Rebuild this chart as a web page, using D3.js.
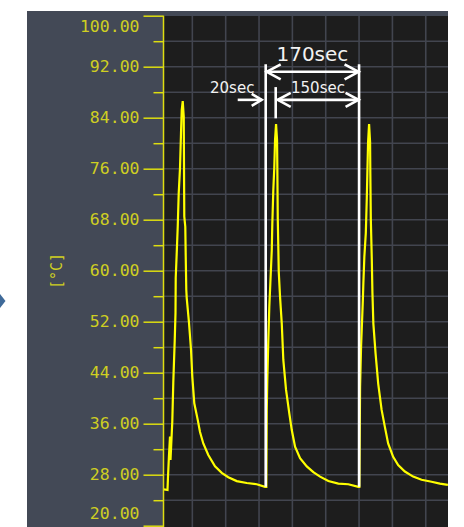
<!DOCTYPE html>
<html><head><meta charset="utf-8">
<script src="https://cdn.jsdelivr.net/npm/d3@7"></script>
<style>body{margin:0;background:#fff;overflow:hidden}</style></head>
<body><svg id="c" width="464" height="527"></svg>
<script>
// ---- data (time in seconds, temperature in °C) ----
const timeSec = [9,15.3,16.2,18,19.8,20.7,23.9,25.7,28.3,29.7,30.1,31.9,33.7,35.5,37.8,39.6,40.9,42.7,44.5,45.5,47.3,48.1,49.1,49.9,54,57.6,59.9,63.5,69.7,73.8,79.7,88.7,100.8,112.9,124.7,139.9,157.9,175.9,190.8,
  193.1,193.9,194.9,196.7,198.5,200.3,202.9,203.9,205.7,207.5,208.8,210.6,212.4,212.9,213.7,215.5,217.8,220.9,223.7,228.6,234.5,238.9,244.8,253.8,265.9,277.7,289.8,304.7,322.7,340.7,358.7,
  360.5,361.8,363.6,365.9,366.8,367.7,369.5,372.1,373.9,374.9,376.2,378,379.8,380.2,381.1,382.9,384,385.7,389.7,394.4,400.5,406.4,412.3,421.3,430.3,442.4,457.3,472.4,490.4,505.4,519.8];
const tempC = [25.7,25.6,27.7,31.1,34.0,30.3,36.3,42.4,49.1,53.4,58.9,62.8,66.9,72.2,76.1,81.6,85.2,86.6,84.2,68.5,66.9,62.2,57.0,55.7,51.8,47.6,43.4,39.2,36.6,34.7,32.9,31.1,29.3,28.3,27.6,27.0,26.7,26.5,26.1,
  26.1,38.1,42.9,49.1,54.4,58.0,63.2,67.4,72.7,76.3,80.5,83.0,80.5,76.3,68.2,59.8,55.9,51.7,46.0,41.3,37.6,35.0,32.4,30.6,29.3,28.4,27.7,27.0,26.6,26.5,26.1,
  26.1,41.8,48.1,53.3,55.4,58.0,62.2,65.9,71.4,75.3,80.2,83.0,80.2,75.8,68.2,61.7,56.6,51.7,47.0,42.3,38.2,35.5,32.9,30.8,29.5,28.5,27.7,27.2,26.9,26.6,26.4];
const majorTicks = [100,92,84,76,68,60,52,44,36,28,20];
const minorTicks = [96,88,80,72,64,56,48,40,32,24];
const gridTemps = [24,28,32,36,40,44,48,52,56,60,64,68,72,76,80,84,88,92,96];
const gridTimes = [60,120,180,240,300,360,420,480];
const cycleStarts = [192,360];
const peakTime = 210;
const unitLabel = "[°C]";
const labelTotal = "170sec", labelOn = "20sec", labelOff = "150sec";

// ---- layout ----
const svg = d3.select("#c");
const X0 = 164, X1 = 448, Ytop = 16, Ybot = 527;
const x = d3.scaleLinear().domain([9,520]).range([X0,X1]);
const y = d3.scaleLinear().domain([20,100]).range([525.7,15.7]);

svg.append("rect").attr("x",27).attr("y",11).attr("width",X1-27).attr("height",Ybot-11).attr("fill","#434956");
svg.append("rect").attr("x",X0).attr("y",Ytop).attr("width",X1-X0).attr("height",Ybot-Ytop).attr("fill","#1d1d1d");

// left marker
svg.append("path").attr("d","M0,294L5.5,301L0,308Z").attr("fill","#3f6a99");

const clip = svg.append("clipPath").attr("id","pc").append("rect")
  .attr("x",X0).attr("y",Ytop).attr("width",X1-X0).attr("height",Ybot-Ytop);

const grid = svg.append("g").attr("clip-path","url(#pc)").attr("stroke","#42454f").attr("stroke-width",1.6);
grid.selectAll("line.h").data(gridTemps).join("line").attr("class","h")
  .attr("x1",X0).attr("x2",X1).attr("y1",d=>y(d)).attr("y2",d=>y(d));
grid.selectAll("line.v").data(gridTimes).join("line").attr("class","v")
  .attr("x1",d=>x(d)).attr("x2",d=>x(d)).attr("y1",Ytop).attr("y2",Ybot);

// axis
const ax = svg.append("g").attr("transform","translate(163.5,0)")
  .call(d3.axisLeft(y).tickValues(majorTicks).tickSize(20).tickSizeOuter(0).tickPadding(4).tickFormat(d=>d.toFixed(2)));
ax.select(".domain").remove();
ax.selectAll(".tick line").attr("stroke","#dede10").attr("stroke-width",1.5);
ax.selectAll(".tick text").attr("fill","#cfcf22").attr("font-family","'DejaVu Sans Mono', monospace").attr("font-size",16.5)
  .attr("y",d=>d===100?11:(d===20?-12.5:0));
const axm = svg.append("g").attr("transform","translate(163.5,0)")
  .call(d3.axisLeft(y).tickValues(minorTicks).tickSize(10).tickSizeOuter(0).tickFormat(""));
axm.select(".domain").remove();
axm.selectAll(".tick line").attr("stroke","#dede10").attr("stroke-width",1.5);
svg.append("line").attr("x1",163.5).attr("x2",163.5).attr("y1",y(100)).attr("y2",Ybot)
  .attr("stroke","#dede10").attr("stroke-width",1.5);

svg.append("text").attr("transform","translate(62,271) rotate(-90)").attr("text-anchor","middle")
  .attr("fill","#cfcf22").attr("font-family","'DejaVu Sans Mono', monospace").attr("font-size",15).text(unitLabel);

// curve
const pts = timeSec.map((t,i)=>[t,tempC[i]]);
svg.append("path").attr("clip-path","url(#pc)").datum(pts)
  .attr("d",d3.line().x(d=>x(d[0])).y(d=>y(d[1])))
  .attr("fill","none").attr("stroke","#ffff00").attr("stroke-width",2.2).attr("stroke-linejoin","miter");

// annotations
const ann = svg.append("g").attr("stroke","#ffffff").attr("fill","none").attr("stroke-width",2.6);
cycleStarts.forEach(t=>{
  ann.append("line").attr("x1",x(t)).attr("x2",x(t)).attr("y1",y(92.4)).attr("y2",y(26.1));
});
ann.append("line").attr("x1",x(peakTime)).attr("x2",x(peakTime)).attr("y1",y(88.8)).attr("y2",y(83.9));
function arrowLine(xa,xb,yy){ ann.append("line").attr("x1",xa).attr("x2",xb).attr("y1",yy).attr("y2",yy); }
function chev(tip,yy,dir,len,half){
  ann.append("path").attr("d",`M${tip-dir*len},${yy-half}L${tip},${yy}L${tip-dir*len},${yy+half}`);
}
const yA = y(91.2), yB = y(86.8);
const xs1 = x(cycleStarts[0]), xs2 = x(cycleStarts[1]), xp = x(peakTime);
arrowLine(xs1+1,xs2-1,yA); chev(xs1+1,yA,-1,14,7.5); chev(xs2-0.5,yA,1,14,7.5);
arrowLine(xp+2,xs2-1,yB); chev(xp+2,yB,-1,13,7); chev(xs2-0.5,yB,1,13,7);
arrowLine(xs1-28,xs1-4,yB); chev(xs1-4,yB,1,10,6);

const tf = "'DejaVu Sans', Verdana, sans-serif";
svg.append("text").attr("x",(xs1+xs2)/2).attr("y",61).attr("text-anchor","middle").attr("fill","#f2f2f2")
  .attr("font-family",tf).attr("font-size",20).text(labelTotal);
svg.append("text").attr("x",291).attr("y",93.3).attr("fill","#f2f2f2")
  .attr("font-family",tf).attr("font-size",15).text(labelOff);
svg.append("text").attr("x",210).attr("y",93.3).attr("fill","#f2f2f2")
  .attr("font-family",tf).attr("font-size",15).text(labelOn);
</script></body></html>
